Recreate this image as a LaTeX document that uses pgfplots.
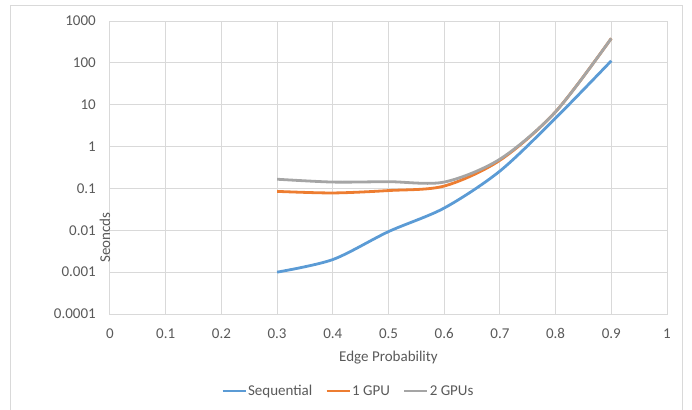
\documentclass[border=0pt]{standalone}
\usepackage{fontspec}
\setmainfont{Carlito}
\usepackage{pgfplots}
\pgfplotsset{compat=1.18}
\definecolor{seqblue}{HTML}{5B9BD5}
\definecolor{gpuorange}{HTML}{ED7D31}
\definecolor{gpugray}{HTML}{A5A5A5}
\definecolor{gridgray}{HTML}{D9D9D9}
\definecolor{txtgray}{HTML}{595959}
\begin{document}
\begin{tikzpicture}
\useasboundingbox (-110pt,-95pt) rectangle (582pt,314pt);
\draw[gridgray, line width=1pt] (-99pt,-130pt) rectangle (572pt,308pt);
\begin{axis}[
  at={(0pt,0pt)}, anchor=south west,
  scale only axis, width=557pt, height=293pt,
  ymode=log, log basis y=10,
  xmin=0, xmax=1, ymin=1e-4, ymax=1000,
  xtick={0,0.1,0.2,0.3,0.4,0.5,0.6,0.7,0.8,0.9,1},
  xticklabels={0,0.1,0.2,0.3,0.4,0.5,0.6,0.7,0.8,0.9,1},
  ytick={1e-4,1e-3,1e-2,1e-1,1,10,100,1000},
  yticklabels={0.0001,0.001,0.01,0.1,1,10,100,1000},
  yminorticks=false, xminorticks=false,
  major tick length=0pt,
  xmajorgrids, ymajorgrids,
  grid style={gridgray, line width=1pt},
  axis line style={gridgray, line width=1pt},
  every tick label/.append style={font=\fontsize{15}{18}\selectfont, text=txtgray, inner sep=0pt},
  xticklabel style={anchor=base, yshift=-24pt},
  yticklabel style={anchor=east, xshift=-14pt},
  xlabel={Edge Probability},
  ylabel={Seoncds},
  label style={font=\fontsize{15}{18}\selectfont, text=txtgray, inner sep=0pt},
  xlabel style={at={(axis description cs:0.5,0)}, anchor=base, yshift=-47pt},
  ylabel style={at={(axis description cs:0,0.5)}, anchor=base, xshift=-70pt},
  legend columns=3,
  legend style={at={(axis description cs:0.427,0)}, anchor=center, yshift=-77pt,
    draw=none, fill=none, font=\fontsize{15}{18}\selectfont, text=txtgray,
    inner sep=0pt, nodes={inner sep=1pt},
    /tikz/every even column/.append style={column sep=12pt}},
  legend image code/.code={\draw[#1, line width=2.8pt] (0pt,0pt) -- (23pt,0pt);},
  every axis plot/.append style={line width=2.8pt, smooth, no markers},
]
\addplot[seqblue] coordinates {
  (0.3,0.001) (0.4,0.002) (0.5,0.0093) (0.6,0.034) (0.7,0.26) (0.8,4.8) (0.9,112)
};
\addlegendentry{Sequential}
\addplot[gpuorange] coordinates {
  (0.3,0.085) (0.4,0.078) (0.5,0.089) (0.6,0.114) (0.7,0.47) (0.8,6.8) (0.9,385)
};
\addlegendentry{1 GPU}
\addplot[gpugray] coordinates {
  (0.3,0.166) (0.4,0.142) (0.5,0.145) (0.6,0.142) (0.7,0.5) (0.8,6.8) (0.9,385)
};
\addlegendentry{2 GPUs}
\end{axis}
\end{tikzpicture}
\end{document}
